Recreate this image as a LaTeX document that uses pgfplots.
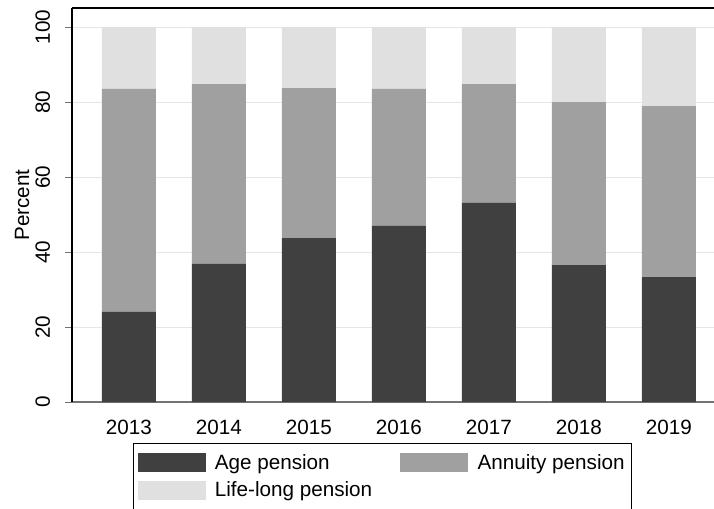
\documentclass[border=0pt]{standalone}
\usepackage{pgfplots}
\pgfplotsset{compat=1.18}
\usepackage{fontspec}
\setmainfont{Liberation Sans}

\definecolor{agec}{HTML}{404040}
\definecolor{annc}{HTML}{A0A0A0}
\definecolor{lifec}{HTML}{E0E0E0}
\definecolor{gridc}{HTML}{E6E6E6}

% shares in percent, 2013..2019 at x = 0..6
\pgfplotstableread{
x  age   annuity life
0  24.1  59.4    16.5
1  36.9  47.9    15.2
2  43.7  40.0    16.3
3  47.0  36.5    16.5
4  53.2  31.6    15.2
5  36.5  43.5    20.0
6  33.3  45.6    21.1
}\pensions

\begin{document}
\begin{tikzpicture}
\begin{axis}[
  at={(0pt,0pt)}, anchor=south west,
  scale only axis, width=481.5pt, height=295.5pt,
  xmin=-0.631, xmax=6.502, ymin=0, ymax=105.1,
  clip=false,
  ybar stacked, bar width=0.6,
  axis x line*=bottom, axis y line*=left,
  axis line style={-},
  x axis line style={draw=black!55, line width=0.9pt},
  y axis line style={draw=black, line width=0.9pt},
  xtick={0,...,6},
  xticklabels={2013,2014,2015,2016,2017,2018,2019},
  xtick style={draw=none},
  ytick={0,20,...,100},
  ytick style={draw=black!55, line width=0.75pt},
  tick align=outside, major tick length=5.25pt,
  ymajorgrids, grid style={gridc, line width=0.75pt},
  /pgf/number format/assume math mode=true,
  tick label style={font=\fontsize{15.5}{17}\selectfont},
  xticklabel style={inner sep=0pt, anchor=north, yshift=-8pt},
  yticklabel style={rotate=90, anchor=south, inner sep=0pt},
  yticklabel shift=11pt,
  ylabel={Percent},
  every axis y label/.style={at={([xshift=-37.5pt]axis description cs:0,0.5)},
    rotate=90, anchor=center, font=\fontsize{15.5}{17}\selectfont},
  legend columns=2,
  legend cell align=left,
  legend image code/.code={\fill[#1] (0pt,-7pt) rectangle (51pt,7pt);},
  legend style={
    at={([xshift=45.75pt, yshift=-30.75pt]axis description cs:0,0)},
    anchor=north west,
    draw=black, line width=0.75pt,
    font=\fontsize{15.5}{17}\selectfont,
    inner xsep=3pt, inner ysep=6pt,
    row sep=4pt,
    /tikz/every odd column/.append style={column sep=5pt},
    /tikz/every even column/.append style={column sep=19pt},
  },
]
\addplot[fill=agec, draw=none] table[x=x, y=age] {\pensions};
\addplot[fill=annc, draw=none] table[x=x, y=annuity] {\pensions};
\addplot[fill=lifec, draw=none] table[x=x, y=life] {\pensions};
\legend{Age pension, Annuity pension, Life-long pension\rule[-8pt]{0pt}{8pt}}
\draw[black, line width=0.9pt] (rel axis cs:0,1) -- (rel axis cs:1.05,1);
\end{axis}
\pgfresetboundingbox
\useasboundingbox (-54pt,-79.5pt) rectangle (481.5pt,301.5pt);
\end{tikzpicture}
\end{document}
